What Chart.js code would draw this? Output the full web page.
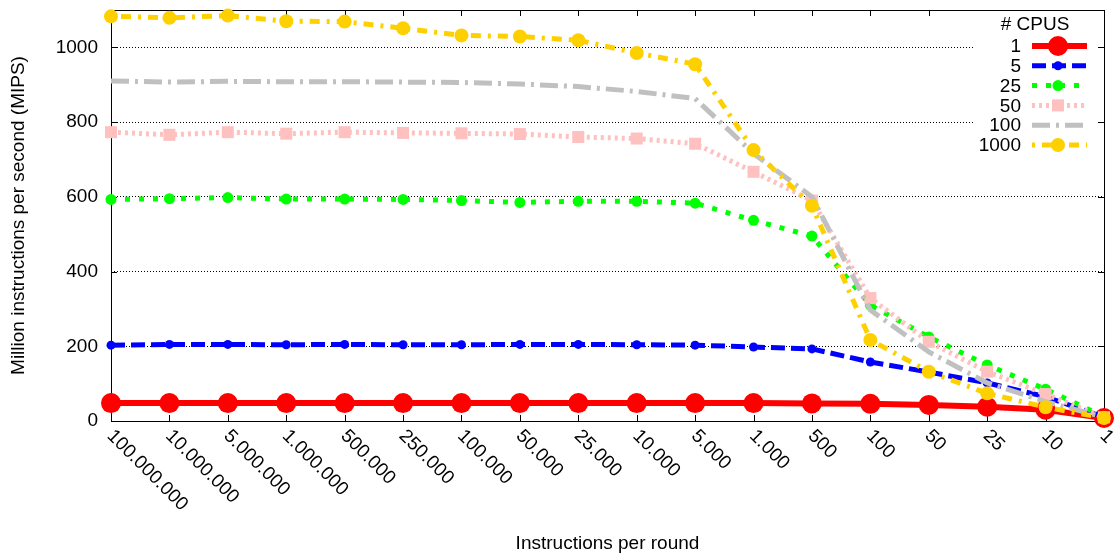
<!DOCTYPE html>
<html>
<head>
<meta charset="utf-8">
<script src="https://cdn.jsdelivr.net/npm/chart.js"></script>
<style>
  body { margin: 0; background: #fff; }
  canvas { display: block; }
</style>
</head>
<body>
<canvas id="mipsChart" width="1114" height="556"></canvas>
<script>
// instructions per round (x categories)
const rounds = ['100.000.000', '10.000.000', '5.000.000', '1.000.000', '500.000', '250.000',
    '100.000', '50.000', '25.000', '10.000', '5.000', '1.000', '500', '100', '50', '25', '10', '1'];
const cpuCounts = ['1', '5', '25', '50', '100', '1000'];
const yTicks = [0, 200, 400, 600, 800, 1000];

// MIPS per CPU count
const mips1 = [48, 48, 48, 48, 48, 48, 48, 48, 48, 48, 48, 48, 47, 46, 43, 38, 30, 8];
const mips5 = [203, 205, 205, 204, 205, 204, 204, 205, 205, 204, 203, 198, 193, 158, 131, 102, 65, 10];
const mips25 = [593, 595, 598, 594, 594, 593, 590, 585, 588, 588, 583, 537, 495, 310, 225, 150, 85, 12];
const mips50 = [773, 766, 773, 769, 773, 771, 770, 768, 760, 756, 742, 667, 590, 329, 212, 132, 72, 10];
const mips100 = [910, 907, 909, 908, 908, 907, 906, 902, 895, 882, 863, 716, 600, 297, 185, 102, 52, 10];
const mips1000 = [1083, 1079, 1085, 1070, 1069, 1051, 1032, 1029, 1019, 985, 955, 725, 576, 217, 132, 74, 37, 8];

const FONT = '"Liberation Sans", Arial, Helvetica, sans-serif';

// styles per series
const styles = [
    { color: '#ff0000', width: 6, dash: [], point: 'circle', radius: 10 },
    { color: '#0000ff', width: 5, dash: [14, 6], point: 'circle', radius: 4.5 },
    { color: '#00ff00', width: 5, dash: [5, 9], point: 'circle', radius: 5.5 },
    { color: '#ffc0c0', width: 5, dash: [3, 4], point: 'rect', radius: 8.5 },
    { color: '#c0c0c0', width: 5, dash: [18, 6, 3, 6], point: 'circle', radius: 0 },
    { color: '#ffd000', width: 5, dash: [3, 7, 10, 7], point: 'circle', radius: 7 }
];
const series = [mips1, mips5, mips25, mips50, mips100, mips1000];

const datasets = series.map((values, i) => ({
    label: cpuCounts[i],
    data: values,
    borderColor: styles[i].color,
    backgroundColor: styles[i].color,
    borderWidth: styles[i].width,
    borderDash: styles[i].dash,
    pointStyle: styles[i].point,
    pointRadius: styles[i].radius,
    pointBackgroundColor: styles[i].color,
    pointBorderWidth: 0,
    tension: 0,
    clip: false,
    order: series.length - i   // later series drawn on top, like gnuplot
}));

function noPad(s) {
    s.paddingTop = 0;
    s.paddingBottom = 0;
    s.paddingLeft = 0;
    s.paddingRight = 0;
}

// frame, inner ticks, rotated x labels and the key
const gnuplotLook = {
    id: 'gnuplotLook',
    beforeDatasetsDraw(chart) {
        const ctx = chart.ctx;
        const a = chart.chartArea;
        const xs = chart.scales.x, ys = chart.scales.y;
        ctx.save();
        ctx.strokeStyle = '#000';
        ctx.lineWidth = 1;
        ctx.beginPath();
        for (let i = 0; i < rounds.length; i++) {
            let x = Math.round(xs.getPixelForValue(i)) + 0.5;
            ctx.moveTo(x, a.bottom); ctx.lineTo(x, a.bottom - 6);
            ctx.moveTo(x, a.top); ctx.lineTo(x, a.top + 6);
        }
        yTicks.forEach(v => {
            let y = Math.round(ys.getPixelForValue(v)) + 0.5;
            ctx.moveTo(a.left, y); ctx.lineTo(a.left + 6, y);
            ctx.moveTo(a.right, y); ctx.lineTo(a.right - 6, y);
        });
        ctx.stroke();
        ctx.strokeRect(Math.round(a.left) + 0.5, Math.round(a.top) + 0.5,
            Math.round(a.right - a.left), Math.round(a.bottom - a.top));
        ctx.restore();
    },
    afterDraw(chart) {
        const ctx = chart.ctx;
        const a = chart.chartArea;
        const xs = chart.scales.x;
        ctx.save();
        ctx.fillStyle = '#000';
        ctx.font = '19px ' + FONT;
        ctx.textAlign = 'left';
        ctx.textBaseline = 'middle';
        for (let i = 0; i < rounds.length; i++) {
            ctx.save();
            ctx.translate(xs.getPixelForValue(i) - 1, a.bottom + 12);
            ctx.rotate(Math.PI / 4);
            ctx.fillText(rounds[i], 0, 0);
            ctx.restore();
        }

        // key
        ctx.fillStyle = '#fff';
        ctx.fillRect(973, a.top + 1, 125, 150);
        ctx.fillStyle = '#000';
        ctx.textAlign = 'center';
        ctx.fillText('# CPUS', 1035, 25);
        for (let i = 0; i < cpuCounts.length; i++) {
            const y = 46 + i * 19.8;
            const s = styles[i];
            ctx.fillStyle = '#000';
            ctx.textAlign = 'right';
            ctx.fillText(cpuCounts[i], 1021, y + 1);
            ctx.strokeStyle = s.color;
            ctx.lineWidth = s.width;
            ctx.setLineDash(s.dash);
            ctx.beginPath();
            ctx.moveTo(1032, y);
            ctx.lineTo(1087, y);
            ctx.stroke();
            ctx.setLineDash([]);
            ctx.fillStyle = s.color;
            if (s.radius > 0) {
                ctx.beginPath();
                if (s.point === 'rect') {
                    const h = s.radius * Math.SQRT1_2;
                    ctx.rect(1058 - h, y - h, 2 * h, 2 * h);
                } else {
                    ctx.arc(1058, y, s.radius, 0, Math.PI * 2);
                }
                ctx.fill();
            }
        }
        ctx.restore();
    }
};

new Chart(document.getElementById('mipsChart'), {
    type: 'line',
    data: { labels: rounds, datasets: datasets },
    options: {
        responsive: false,
        animation: false,
        devicePixelRatio: 1,
        layout: { padding: { top: 10, right: 4, left: 0, bottom: 0 } },
        plugins: { legend: { display: false }, tooltip: { enabled: false } },
        scales: {
            x: {
                type: 'category',
                offset: false,
                grid: { display: false },
                border: { display: false },
                ticks: { display: false },
                title: {
                    display: true,
                    text: 'Instructions per round',
                    color: '#000',
                    font: { family: FONT, size: 19 },
                    padding: { top: 0, bottom: 1 }
                },
                afterFit: s => { s.height = 135; noPad(s); }
            },
            y: {
                min: 0,
                max: 1100,
                border: { display: false, dash: [1, 2] },
                grid: {
                    drawTicks: false,
                    lineWidth: 1,
                    color: c => (c.tick.value > 0 && c.tick.value <= 1000) ? '#000' : 'rgba(0,0,0,0)'
                },
                ticks: {
                    stepSize: 200,
                    includeBounds: false,
                    padding: 13,
                    color: '#000',
                    font: { family: FONT, size: 19 },
                    callback: v => (v <= 1000 ? v : '')
                },
                title: {
                    display: true,
                    text: 'Million instructions per second (MIPS)',
                    color: '#000',
                    font: { family: FONT, size: 19 },
                    padding: { top: 7, bottom: 0 }
                },
                afterFit: s => { s.width = 111; noPad(s); }
            }
        }
    },
    plugins: [gnuplotLook]
});
</script>
</body>
</html>
